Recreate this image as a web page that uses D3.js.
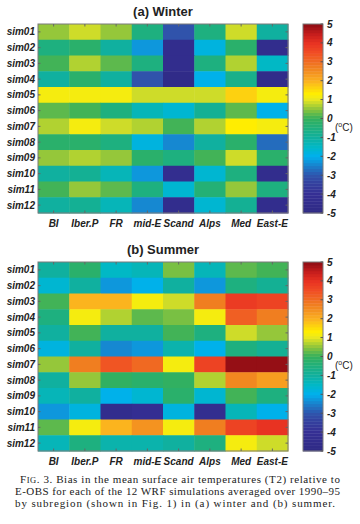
<!DOCTYPE html>
<html><head><meta charset="utf-8">
<script src="https://cdn.jsdelivr.net/npm/d3@7"></script>
<style>body{margin:0;background:#fff}svg{display:block}</style>
</head><body>
<svg id="c" width="360" height="524"></svg>
<script>
const regions = ["BI","Iber.P","FR","mid-E","Scand","Alps","Med","East-E"];
const sims = ["sim01","sim02","sim03","sim04","sim05","sim06","sim07","sim08","sim09","sim10","sim11","sim12"];
const winter = [
  [0.5,0.9,0.5,-0.5,-3.0,-0.5,0.9,-1.0],
  [-0.5,-0.2,-1.0,-2.3,-4.5,-1.8,-0.3,-4.5],
  [0.0,0.7,0.2,-0.6,-4.5,-0.6,0.7,-1.5],
  [-1.0,-0.3,-1.0,-3.0,-4.7,-2.0,-0.7,-4.6],
  [1.2,1.2,1.2,0.9,0.9,0.9,1.7,1.1],
  [0.2,0.1,-0.6,-1.4,-1.7,-0.9,0.2,-2.0],
  [0.7,1.2,0.9,0.7,0.0,0.7,1.4,1.1],
  [-0.3,-0.3,-0.6,-1.8,-2.5,-1.0,-0.2,-2.7],
  [0.5,0.7,0.5,-0.3,-0.6,0.0,0.9,-0.3],
  [-1.0,-0.8,-1.4,-2.3,-4.3,-1.6,-0.6,-4.5],
  [0.0,0.5,0.2,-0.6,-1.6,-0.4,0.5,-0.6],
  [-1.0,-0.8,-1.4,-2.5,-4.5,-1.6,-0.9,-4.5]
];
const summer = [
  [-1.0,-0.3,-1.5,-1.4,0.4,-1.4,0.2,0.0],
  [-1.7,-1.0,-2.3,-2.0,-1.0,-2.3,-0.6,-0.9],
  [0.0,2.0,2.0,1.2,0.9,2.7,3.9,3.7],
  [-0.5,1.1,0.7,0.2,0.4,1.1,3.2,2.7],
  [-1.0,0.0,-1.0,-1.0,0.0,-0.6,0.9,0.5],
  [-1.8,-1.0,-2.5,-2.3,-1.1,-2.0,-0.6,-0.9],
  [0.5,2.7,3.4,3.0,1.1,3.7,5.0,5.0],
  [-1.0,0.5,-0.1,-0.3,-0.1,0.7,2.6,2.2],
  [-1.4,-1.0,-2.0,-1.7,-0.3,-1.6,0.0,-0.5],
  [-2.3,-1.8,-4.5,-4.2,-1.8,-4.3,-1.4,-2.0],
  [0.2,1.1,2.0,2.4,1.2,2.7,3.6,4.0],
  [-1.4,-0.6,-1.1,-1.1,-1.0,-0.6,1.2,0.9]
];
const cbTicks = [5,4,3,2,1,0,-1,-2,-3,-4,-5];
const captionLines = [
  "Bias in the mean surface air temperatures (T2) relative to",
  "E-OBS for each of the 12 WRF simulations averaged over 1990\u201395",
  "by subregion (shown in Fig. 1) in (a) winter and (b) summer."
];

const stopVals = [-5,-4,-3.4,-3,-2.5,-2,-1.5,-1,-0.5,0,0.5,1,1.3,2,2.7,3.5,4,4.5,5];
const stopCols = ["#2e2a84","#352f94","#34419f","#2f55ad","#1a80cc","#00b0ee","#00b8c6","#10b09e","#1fb07c","#34b05c","#8cc43c","#e8e622","#fff000","#fbb020","#f08020","#f04c24","#e83222","#c41c1c","#8c0c14"];
const cmap = d3.scaleLinear().domain(stopVals).range(stopCols).interpolate(d3.interpolateRgb).clamp(true);
const nLev = 64;
const quant = v => { const i = Math.min(nLev-1, Math.floor((v+5)/10*nLev)); return cmap(-5 + (i+0.5)*10/nLev); };

const svg = d3.select("#c");
const lab = "'Liberation Sans', Arial, sans-serif";

function panel(title, data, top, bottom) {
  const left = 38, right = 288;
  const x = d3.scaleBand().domain(regions).range([left, right]);
  const y = d3.scaleBand().domain(sims).range([top, bottom]);
  const g = svg.append("g");
  g.append("text").attr("x", (left+right)/2).attr("y", top-8).attr("text-anchor","middle")
    .attr("font-family", lab).attr("font-weight","bold").attr("font-size", 13).attr("fill","#222").text(title);
  data.forEach((row, i) => row.forEach((v, j) => {
    g.append("rect").attr("x", x(regions[j])).attr("y", y(sims[i]))
      .attr("width", x.bandwidth()+0.5).attr("height", y.bandwidth()+0.5).attr("fill", quant(v));
  }));
  g.append("rect").attr("x", left).attr("y", top).attr("width", right-left).attr("height", bottom-top)
    .attr("fill","none").attr("stroke","#7a7a7a").attr("stroke-width",1);
  regions.forEach(r => {
    const cx = x(r)+x.bandwidth()/2;
    g.append("line").attr("x1",cx).attr("x2",cx).attr("y1",top).attr("y2",top+2.5).attr("stroke","#666");
    g.append("line").attr("x1",cx).attr("x2",cx).attr("y1",bottom).attr("y2",bottom-2.5).attr("stroke","#666");
    g.append("text").attr("x",cx).attr("y",bottom+14).attr("text-anchor","middle")
      .attr("font-family",lab).attr("font-weight","bold").attr("font-style","italic").attr("font-size",10).attr("fill","#222").text(r);
  });
  sims.forEach(s => {
    const cy = y(s)+y.bandwidth()/2;
    g.append("line").attr("x1",left).attr("x2",left+2.5).attr("y1",cy).attr("y2",cy).attr("stroke","#666");
    g.append("line").attr("x1",right).attr("x2",right-2.5).attr("y1",cy).attr("y2",cy).attr("stroke","#666");
    g.append("text").attr("x",35).attr("y",cy+3.5).attr("text-anchor","end")
      .attr("font-family",lab).attr("font-weight","bold").attr("font-style","italic").attr("font-size",10).attr("fill","#222").text(s);
  });
  const cbL = 303, cbR = 323;
  const cy = d3.scaleLinear().domain([-5,5]).range([bottom, top]);
  for (let i = 0; i < nLev; i++) {
    const v0 = -5 + i*10/nLev, v1 = -5 + (i+1)*10/nLev;
    g.append("rect").attr("x",cbL).attr("y",cy(v1)).attr("width",cbR-cbL).attr("height",cy(v0)-cy(v1)+0.4)
      .attr("fill",cmap((v0+v1)/2));
  }
  g.append("rect").attr("x",cbL).attr("y",top).attr("width",cbR-cbL).attr("height",bottom-top)
    .attr("fill","none").attr("stroke","#7a7a7a");
  cbTicks.forEach(t => {
    g.append("line").attr("x1",cbR).attr("x2",cbR-2.5).attr("y1",cy(t)).attr("y2",cy(t)).attr("stroke","#555");
    g.append("text").attr("x",327).attr("y",cy(t)+3.5)
      .attr("font-family",lab).attr("font-weight","bold").attr("font-style","italic").attr("font-size",10).attr("fill","#222").text(t);
  });
  const u = g.append("text").attr("x",335).attr("y",cy(-0.45)+4).attr("font-family",lab).attr("font-size",10).attr("fill","#222");
  u.append("tspan").text("(");
  u.append("tspan").attr("dy",-4).attr("font-size",7).text("o");
  u.append("tspan").attr("dy",4).text("C)");
}

panel("(a) Winter", winter, 24, 213);
panel("(b) Summer", summer, 262, 451);

const serif = "'Liberation Serif', 'Times New Roman', serif";
const c1 = svg.append("text").attr("x",20).attr("y",483).attr("font-family",serif).attr("font-size",11).attr("fill","#222")
  .attr("textLength",320).attr("lengthAdjust","spacing");
c1.append("tspan").text("F");
c1.append("tspan").attr("font-size",8.5).text("IG");
c1.append("tspan").text(". 3. " + captionLines[0]);
svg.append("text").attr("x",15).attr("y",495).attr("font-family",serif).attr("font-size",11).attr("fill","#222")
  .attr("textLength",325).attr("lengthAdjust","spacing").text(captionLines[1]);
svg.append("text").attr("x",15).attr("y",507).attr("font-family",serif).attr("font-size",11).attr("fill","#222")
  .attr("textLength",320).attr("lengthAdjust","spacing").text(captionLines[2]);
</script>
</body></html>
